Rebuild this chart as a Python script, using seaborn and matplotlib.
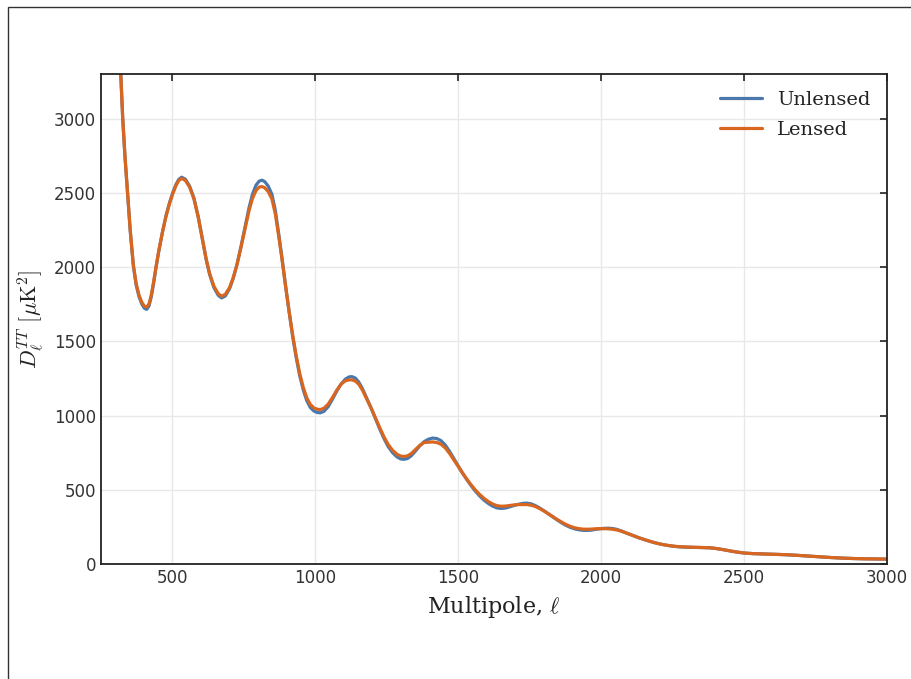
import numpy as np
import pandas as pd
import matplotlib
matplotlib.use("Agg")
import matplotlib.pyplot as plt
import seaborn as sns
from matplotlib.patches import Rectangle

# ---- data ----
ell = [300, 310, 319, 326, 334, 343, 352, 363, 373, 383, 393, 402, 410, 418, 426, 434, 442, 452,
       465, 478, 490, 501, 512, 522, 532, 545, 560, 575, 590, 605, 618, 630, 645, 660, 672, 685,
       700, 712, 725, 740, 755, 768, 780, 792, 803, 813, 823, 835, 848, 860, 872, 884, 896, 908,
       920, 932, 945, 958, 970, 982, 995, 1007, 1017, 1030, 1045, 1060, 1075, 1090, 1105, 1118,
       1128, 1140, 1152, 1165, 1180, 1195, 1210, 1225, 1240, 1255, 1270, 1285, 1298, 1310, 1322,
       1335, 1350, 1365, 1380, 1395, 1410, 1425, 1440, 1455, 1470, 1485, 1500, 1515, 1530, 1545,
       1560, 1575, 1590, 1605, 1620, 1635, 1650, 1665, 1680, 1695, 1710, 1725, 1740, 1755, 1770,
       1785, 1800, 1815, 1830, 1845, 1860, 1875, 1890, 1905, 1920, 1935, 1950, 1965, 1980, 1995,
       2010, 2025, 2040, 2055, 2070, 2085, 2100, 2115, 2130, 2150, 2170, 2190, 2210, 2230, 2250,
       2270, 2290, 2320, 2350, 2380, 2400, 2420, 2440, 2460, 2480, 2500, 2530, 2560, 2600, 2640,
       2680, 2720, 2760, 2800, 2840, 2880, 2920, 2960, 3000]

D_unlensed = [4100, 3700, 3300, 3000, 2740, 2500, 2250, 2010, 1880, 1800, 1750, 1722, 1715, 1738,
              1800, 1890, 1990, 2105, 2235, 2350, 2435, 2500, 2555, 2590, 2605, 2592, 2545, 2465,
              2340, 2185, 2050, 1950, 1862, 1810, 1792, 1805, 1855, 1920, 2010, 2140, 2280, 2400,
              2490, 2550, 2578, 2585, 2575, 2545, 2490, 2380, 2220, 2050, 1870, 1700, 1540, 1400,
              1270, 1170, 1100, 1055, 1030, 1020, 1018, 1028, 1060, 1110, 1165, 1212, 1245, 1260,
              1262, 1252, 1225, 1180, 1115, 1050, 980, 910, 845, 790, 750, 722, 708, 705, 710,
              728, 760, 795, 823, 840, 848, 845, 830, 800, 757, 708, 660, 612, 568, 527,
              490, 458, 430, 408, 390, 378, 374, 377, 385, 394, 402, 408, 410, 405, 393,
              377, 358, 338, 318, 298, 279, 262, 248, 238, 231, 227, 226, 228, 233, 237,
              240, 241, 239, 233, 223, 211, 200, 189, 178, 165, 153, 142, 133, 126, 120,
              116, 114, 112, 111, 109, 105, 99, 92, 85, 79, 74, 70, 68, 66, 63,
              59, 54, 49, 44, 40, 37, 35, 34, 33]

D_lensed = [4100, 3700, 3300, 3000, 2742, 2503, 2255, 2017, 1888, 1810, 1762, 1736, 1730, 1752,
            1812, 1899, 1996, 2108, 2234, 2346, 2429, 2493, 2547, 2582, 2597, 2584, 2538, 2460,
            2338, 2186, 2054, 1957, 1871, 1821, 1804, 1816, 1863, 1925, 2011, 2135, 2268, 2380,
            2462, 2514, 2538, 2542, 2534, 2508, 2458, 2356, 2205, 2042, 1868, 1704, 1549, 1412,
            1285, 1187, 1119, 1075, 1051, 1042, 1040, 1049, 1077, 1122, 1171, 1211, 1234, 1240,
            1240, 1232, 1210, 1170, 1111, 1051, 985, 919, 857, 804, 766, 740, 727, 724, 728,
            743, 770, 798, 818, 820, 822, 818, 806, 781, 743, 700, 656, 612, 571, 533,
            498, 468, 442, 421, 404, 393, 389, 390, 394, 398, 400, 400, 400, 396, 387,
            373, 357, 338, 320, 301, 284, 268, 255, 245, 239, 235, 234, 235, 237, 238,
            238, 237, 234, 229, 221, 211, 200, 189, 178, 165, 153, 142, 133, 126, 121,
            117, 115, 113, 111, 109, 105, 99, 92, 85, 79, 74, 70, 68, 66, 63,
            59, 54, 49, 44, 40, 37, 35, 34, 33]

series_names = ["Unlensed", "Lensed"]
x_ticks = [500, 1000, 1500, 2000, 2500, 3000]
y_ticks = [0, 500, 1000, 1500, 2000, 2500, 3000]

df = pd.concat([
    pd.DataFrame({"ell": ell, "D": D_unlensed, "series": series_names[0]}),
    pd.DataFrame({"ell": ell, "D": D_lensed, "series": series_names[1]}),
], ignore_index=True)

sns.set_theme(style="white")
plt.rcParams["mathtext.fontset"] = "cm"
plt.rcParams["font.family"] = ["DejaVu Sans"]

fig = plt.figure(figsize=(9.11, 6.79), dpi=100)
ax = fig.add_axes([101 / 911, 1 - 564 / 679, (887 - 101) / 911, (564 - 74) / 679])

palette = {"Unlensed": "#4a78ad", "Lensed": "#d9661f"}
sns.lineplot(data=df, x="ell", y="D", hue="series", palette=palette, ax=ax,
             linewidth=2.3, sort=False, estimator=None, legend=True)
for line in ax.get_lines():
    line.set_solid_joinstyle("round")
    line.set_solid_capstyle("round")

ax.set_xlim(250, 3000)
ax.set_ylim(0, 3300)
ax.set_xticks(x_ticks)
ax.set_yticks(y_ticks)
ax.grid(True, color="#e8e8e8", linewidth=1.0)
ax.set_axisbelow(True)
for s in ax.spines.values():
    s.set_visible(True)
    s.set_color("#222222")
    s.set_linewidth(1.3)
ax.tick_params(axis="both", which="both", direction="in", top=True, right=True,
               length=5, width=1.2, labelsize=12, colors="#222222", labelcolor="#333333")

ax.set_xlabel(r"Multipole, $\ell$", fontsize=16, family="DejaVu Serif", labelpad=5, color="#222222")
ax.set_ylabel(r"$D_\ell^{TT}\ [\mu\mathrm{K}^2]$", fontsize=16, labelpad=6, color="#222222")

leg = ax.legend(loc="upper right", frameon=False, prop={"family": "DejaVu Serif", "size": 14},
                handlelength=2.15, borderaxespad=0.45, labelspacing=0.62)
for t in leg.get_texts():
    t.set_color("#222222")

fig.patches.append(Rectangle((8 / 911, -0.05), 1.1, 1 - 7 / 679 + 0.05,
                             transform=fig.transFigure, fill=False,
                             edgecolor="#333333", linewidth=1.0))

fig.savefig("out.png", dpi=100, facecolor="white")
